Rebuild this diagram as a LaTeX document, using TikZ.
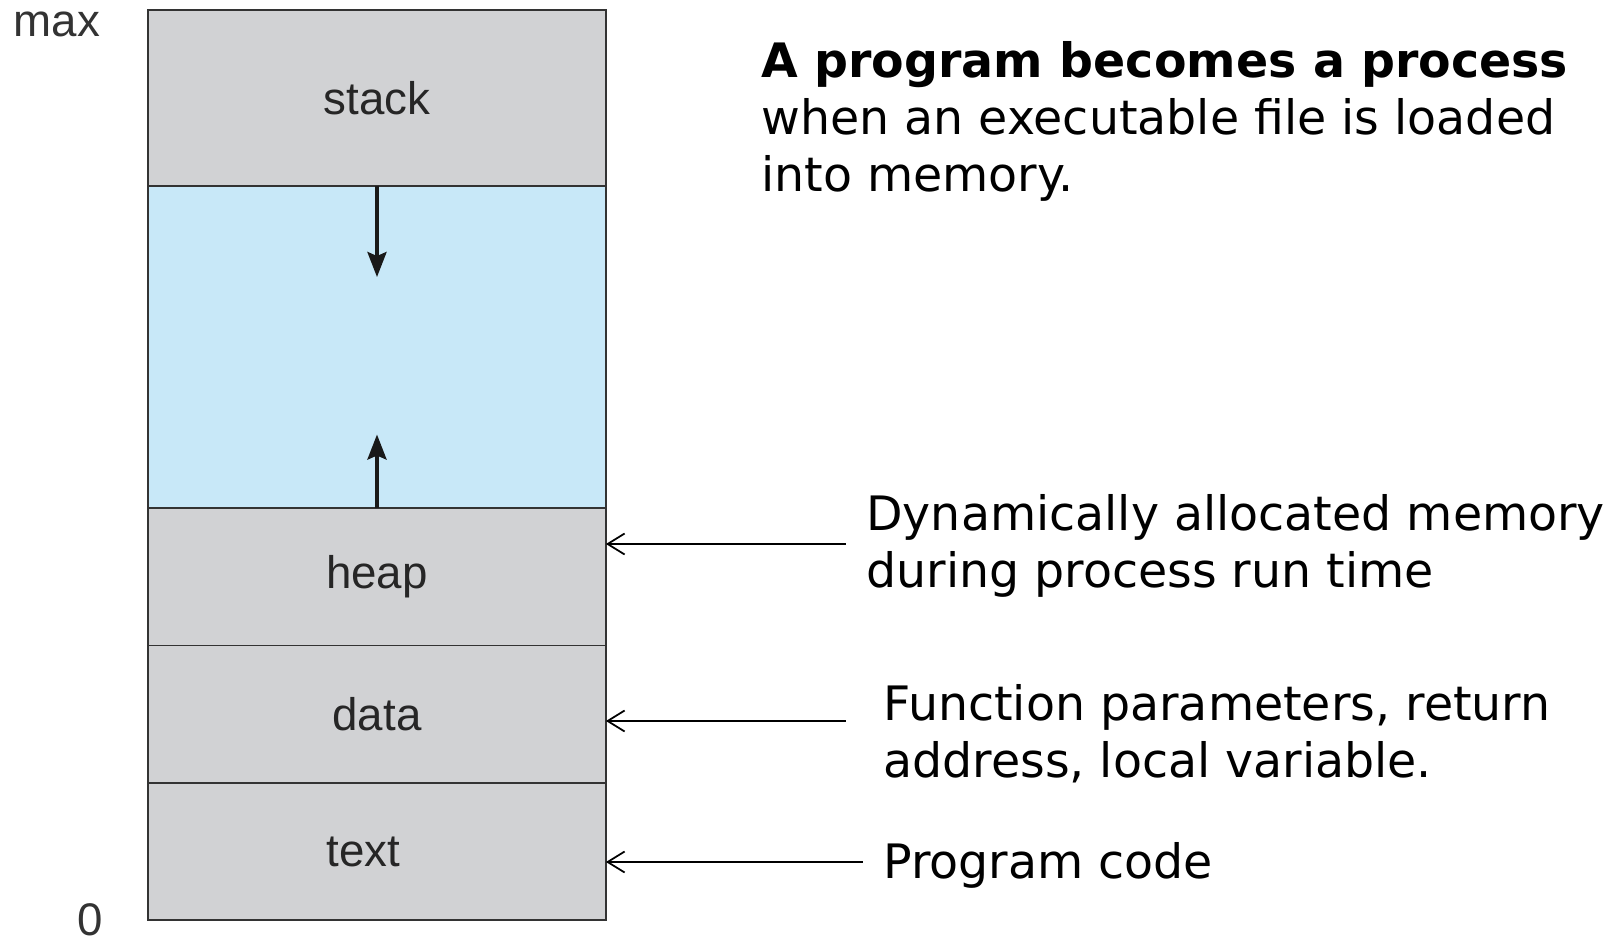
\documentclass[tikz,border=0pt]{standalone}
\usepackage{fontspec}
\setmainfont{DejaVu Sans}
\newfontfamily\boxfont{Liberation Sans}
\usetikzlibrary{arrows.meta, positioning}

\definecolor{segGray}{HTML}{D1D2D4}
\definecolor{freeBlue}{HTML}{C8E8F8}
\definecolor{edgeGray}{HTML}{333333}

\begin{document}
\begin{tikzpicture}[x=0.02cm, y=-0.02cm,
    seg/.style = {rectangle, draw=edgeGray, fill=segGray, line width=1.1pt, outer sep=0pt, inner sep=0pt, minimum width=9.16cm, font=\boxfont\fontsize{26}{30}\selectfont, text=black!85},
    growarrow/.style = {-{Stealth[length=0.5cm, width=0.38cm, inset=0.08cm]}, line width=2.2pt, black!90},
    pointer/.style = {{Straight Barb[length=0.34cm, width=0.42cm]}-, line width=1pt},
    note/.style = {anchor=west, align=left, inner sep=0pt, font=\fontsize{27}{32.4}\selectfont},
    axis/.style = {font=\boxfont\fontsize{26}{30}\selectfont, text=black!80, inner sep=0pt}
]
\useasboundingbox (0,0) rectangle (1624,939);

% Memory layout
\node (stack) [seg, minimum height=3.512cm, anchor=north] at (377,10) {stack};
\node (free) [seg, fill=freeBlue, minimum height=6.45cm, below=0pt of stack] {};
\node (heap) [seg, minimum height=2.75cm, below=0pt of free] {heap};
\node (data) [seg, minimum height=2.76cm, below=0pt of heap] {data};
\node (text) [seg, minimum height=2.74cm, below=0pt of data] {\hspace*{-0.54cm}text};

\node (max) [axis] at (57,24) {max};
\node (zero) [axis] at (90,920) {0};

% Growth arrows
\coordinate [below=1.83cm of free.north] (stacktip);
\coordinate [above=1.47cm of free.south] (heaptip);
\draw [growarrow] (free.north) -- (stacktip);
\draw [growarrow] (free.south) -- (heaptip);

% Notes
\node (title) [note, anchor=north west] at (761,41) {\textbf{A program becomes a process}\\when an executable file is loaded\\into memory.};
\node (heapnote) [note] at (866,546) {Dynamically allocated memory\\during process run time};
\node (datanote) [note] at (883,734) {Function parameters, return\\address, local variable.};
\node (textnote) [note] at (883,865) {Program code};

\coordinate (heapfrom) at (846,544);
\coordinate (datafrom) at (846,721);
\coordinate (textfrom) at (863,862);
\draw [pointer] (heap.east |- heapfrom) -- (heapfrom);
\draw [pointer] (data.east |- datafrom) -- (datafrom);
\draw [pointer] (text.east |- textfrom) -- (textfrom);

\end{tikzpicture}
\end{document}
